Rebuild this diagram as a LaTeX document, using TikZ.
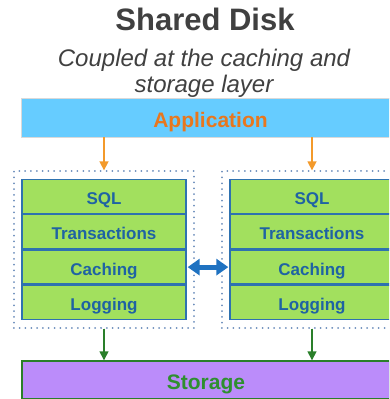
\documentclass[tikz,border=0pt]{standalone}
\usepackage{fontspec}
\setmainfont{Liberation Sans}
\usepackage{tikz}
\usetikzlibrary{arrows.meta,positioning,fit}

\definecolor{titlegray}{HTML}{404040}
\definecolor{appblue}{HTML}{66CCFF}
\definecolor{apporange}{HTML}{E8771E}
\definecolor{arroworange}{HTML}{F39A2B}
\definecolor{layergreen}{HTML}{A2E05E}
\definecolor{layerline}{HTML}{2E72B0}
\definecolor{layertext}{HTML}{1F63A3}
\definecolor{dotblue}{HTML}{6A8CBB}
\definecolor{linkblue}{HTML}{1F72C1}
\definecolor{diskpurple}{HTML}{BB8CFA}
\definecolor{diskgreen}{HTML}{2A7F2A}
\definecolor{storetext}{HTML}{2F8F2F}

\begin{document}
\begin{tikzpicture}[
  x=1pt, y=-1pt,
  node distance=0pt,
  title/.style={font=\fontsize{31}{36}\selectfont\bfseries, text=titlegray},
  subtitle/.style={font=\fontsize{24}{26}\selectfont\itshape, text=titlegray, align=center},
  bar/.style={rectangle, inner sep=0pt, text height=19.5pt, text depth=0pt, font=\fontsize{21}{24}\selectfont\bfseries},
  layer/.style={rectangle, draw=layerline, line width=1.3pt, fill=layergreen, minimum width=164pt, minimum height=34pt, inner sep=0pt, text height=16pt, text depth=0pt, text=layertext, font=\fontsize{17}{20}\selectfont\bfseries},
  node box/.style={rectangle, draw=dotblue, line width=2pt, line cap=round, dash pattern=on 0.01pt off 5.8pt, inner sep=7.5pt},
  down arrow/.style={-{Triangle[length=9pt, width=9pt]}, line width=1.5pt},
  link/.style={{Triangle[length=12pt, width=16pt]}-{Triangle[length=12pt, width=16pt]}, line width=5pt, draw=linkblue}
]
\useasboundingbox (0,0) rectangle (389,399);
\clip (0,0) rectangle (389,399);

%% Heading
\node[title] (title) at (205,19) {Shared Disk};
\node[subtitle] (sub) at (204,73) {Coupled at the caching and\\storage layer};

%% Application and storage bars
\node[bar, fill=appblue, draw=black!15, line width=0.6pt, minimum width=379pt, minimum height=39pt, text=apporange] (app) at (210.5,117.5) {Application};
\node[bar, fill=diskpurple, draw=diskgreen, line width=1.4pt, minimum width=368pt, minimum height=38pt, text=storetext] (storage) at (206,380) {Storage};

%% Left node
\node[layer] (lsql) at (104,196.5) {SQL};
\node[layer, below=of lsql] (ltxn) {Transactions};
\node[layer, below=of ltxn] (lcache) {Caching};
\node[layer, below=of lcache] (llog) {Logging};
\node[node box, fit=(lsql) (llog)] (lbox) {};

%% Right node
\node[layer] (rsql) at (312,196.5) {SQL};
\node[layer, below=of rsql] (rtxn) {Transactions};
\node[layer, below=of rtxn] (rcache) {Caching};
\node[layer, below=of rcache] (rlog) {Logging};
\node[node box, fit=(rsql) (rlog)] (rbox) {};

%% Arrows
\draw[down arrow, draw=arroworange, fill=arroworange] (app.south -| lbox.north) -- (lbox.north);
\draw[down arrow, draw=arroworange, fill=arroworange] (app.south -| rbox.north) -- (rbox.north);
\draw[down arrow, draw=diskgreen, fill=diskgreen] (lbox.south) -- (storage.north -| lbox.south);
\draw[down arrow, draw=diskgreen, fill=diskgreen] (rbox.south) -- (storage.north -| rbox.south);
\draw[link, shorten <=1pt, shorten >=1pt] (lcache.east) -- (rcache.west);
\end{tikzpicture}
\end{document}
